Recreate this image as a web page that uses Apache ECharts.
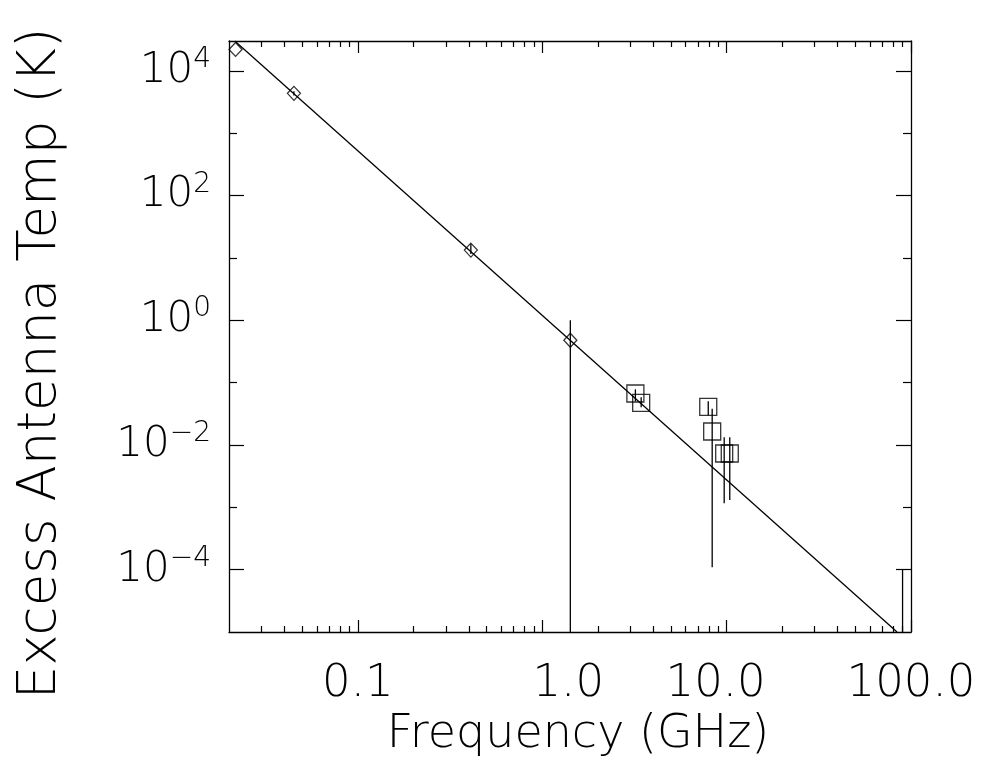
<!DOCTYPE html>
<html>
<head>
<meta charset="utf-8">
<script src="https://cdn.jsdelivr.net/npm/echarts@6/dist/echarts.min.js"></script>
<style>html,body{margin:0;padding:0;background:#fff;}#c{width:1002px;height:782px;}</style>
</head>
<body>
<div id="c"></div>
<script>
// ---- data ----
var diamondFreq = [0.0217, 0.045, 0.41, 1.42];
var diamondTemp = [22000, 4340, 13.3, 0.478];
var squareFreq = [3.2, 3.44, 7.95, 8.35, 9.7, 10.4, 90];
var squareTemp = [0.0667, 0.0472, 0.0407, 0.0164, 0.00728, 0.00728, 0.000003];
var errFreq = [0.045, 0.41, 1.42, 3.2, 3.44, 7.95, 8.35, 9.7, 10.4, 90];
var errLow  = [4000, 11.5, 0.000001, 0.05, 0.04, 0.03, 0.000109, 0.00116, 0.00131, 0.000001];
var errHigh = [4700, 16.6, 1.0, 0.078, 0.058, 0.05, 0.038, 0.0133, 0.0133, 0.0001];
var fitFreq = [0.0215, 84];
var fitTemp = [30000, 0.00001];
var xMajorTicks = [0.1, 1, 10, 100];
var xMinorTicks = [0.03,0.04,0.05,0.06,0.07,0.08,0.09,
                   0.2,0.3,0.4,0.5,0.6,0.7,0.8,0.9,
                   2,3,4,5,6,7,8,9,
                   20,30,40,50,60,70,80,90];
var xTickLabels = ['0.1', '1.0', '10.0', '100.0'];
var yMajorTicks = [1e-4, 1e-2, 1, 1e2, 1e4];
var yMinorTicks = [1e-3, 1e-1, 1e1, 1e3];
var yTickExponents = ['−4', '−2', '0', '2', '4'];

// label style keys (horizontal nudges of the tick labels as seen in the reference)
var xLabelStyleKeys = ['c', 'r', 'l', 'c'];

var FONT = 'DejaVu Sans';
var chart = echarts.init(document.getElementById('c'), null, {renderer: 'canvas'});

function zip(a, b) { return a.map(function (v, i) { return [v, b[i]]; }); }
function xLabel(v) {
  var i = xMajorTicks.findIndex(function (t) { return Math.abs(Math.log10(t) - Math.log10(v)) < 1e-6; });
  return i >= 0 ? '{' + xLabelStyleKeys[i] + '|' + xTickLabels[i] + '}' : '';
}
function yLabel(v) {
  var i = yMajorTicks.findIndex(function (t) { return Math.abs(Math.log10(t) - Math.log10(v)) < 1e-6; });
  return i >= 0 ? '{b|10}{s|' + yTickExponents[i] + '}' : '';
}

var xLabelFont = {fontFamily: FONT, fontWeight: 200, fontSize: 45, color: '#000'};
function xAx(pos, ticks, len, showLabel, showLine) {
  return {
    type: 'log', logBase: 10, min: 0.02, max: 100, position: pos,
    axisLine: {show: showLine, onZero: false, lineStyle: {color: '#000', width: 1.3}},
    axisTick: {show: true, inside: true, length: len, customValues: ticks, lineStyle: {color: '#000', width: 1.2}},
    axisLabel: {show: showLabel, customValues: xMajorTicks, formatter: xLabel, margin: 30,
                fontFamily: FONT, fontWeight: 200, fontSize: 45, color: '#000',
                rich: {
                  c: Object.assign({}, xLabelFont),
                  r: Object.assign({padding: [0, 0, 0, 52]}, xLabelFont),
                  l: Object.assign({padding: [0, 22, 0, 0]}, xLabelFont)
                }},
    splitLine: {show: false}, minorTick: {show: false},
    name: showLabel ? 'Frequency (GHz)' : '', nameLocation: 'middle', nameGap: 78,
    nameTextStyle: {fontFamily: FONT, fontWeight: 200, fontSize: 46, color: '#000', padding: [0, 0, 0, 16]}
  };
}
function yAx(pos, ticks, len, showLabel, showLine) {
  return {
    type: 'log', logBase: 10, min: 0.00001, max: 30000, position: pos,
    axisLine: {show: showLine, onZero: false, lineStyle: {color: '#000', width: 1.3}},
    axisTick: {show: true, inside: true, length: len, customValues: ticks, lineStyle: {color: '#000', width: 1.2}},
    axisLabel: {show: showLabel, customValues: yMajorTicks, formatter: yLabel, margin: 18,
                fontFamily: FONT, fontWeight: 200, color: '#000',
                rich: {
                  b: {fontFamily: FONT, fontWeight: 200, fontSize: 42, lineHeight: 50, color: '#000'},
                  s: {fontFamily: FONT, fontWeight: 200, fontSize: 28, lineHeight: 28, verticalAlign: 'top', color: '#000'}
                }},
    splitLine: {show: false}, minorTick: {show: false},
    name: showLabel ? 'Excess Antenna Temp (K)' : '', nameLocation: 'middle', nameGap: 161,
    nameTextStyle: {fontFamily: FONT, fontWeight: 200, fontSize: 53, color: '#000', padding: [0, 54, 0, 0]}
  };
}

var option = {
  backgroundColor: '#fff',
  animation: false,
  grid: {left: 229, right: 91, top: 41, bottom: 150, containLabel: false},
  xAxis: [
    xAx('bottom', xMajorTicks, 12, true, true),
    xAx('bottom', xMinorTicks, 6, false, false),
    xAx('top', xMajorTicks, 12, false, true),
    xAx('top', xMinorTicks, 6, false, false)
  ],
  yAxis: [
    yAx('left', yMajorTicks, 15, true, true),
    yAx('left', yMinorTicks, 8, false, false),
    yAx('right', yMajorTicks, 15, false, true),
    yAx('right', yMinorTicks, 8, false, false)
  ],
  series: [
    {
      type: 'line', data: zip(fitFreq, fitTemp), showSymbol: false, symbol: 'none',
      lineStyle: {color: '#000', width: 1.3}, clip: true, z: 2
    },
    {
      type: 'custom', clip: true, z: 3,
      data: errFreq.map(function (f, i) { return [f, errLow[i], errHigh[i]]; }),
      renderItem: function (params, api) {
        var p1 = api.coord([api.value(0), api.value(1)]);
        var p2 = api.coord([api.value(0), api.value(2)]);
        return {type: 'line', shape: {x1: p1[0], y1: p1[1], x2: p2[0], y2: p2[1]},
                style: {stroke: '#000', lineWidth: 1.3}};
      }
    },
    {
      type: 'scatter', data: zip(diamondFreq, diamondTemp), symbol: 'diamond', symbolSize: [13, 14],
      itemStyle: {color: 'rgba(0,0,0,0)', borderColor: '#000', borderWidth: 1.3}, clip: true, z: 4
    },
    {
      type: 'scatter', data: zip(squareFreq, squareTemp), symbol: 'rect', symbolSize: 17,
      itemStyle: {color: 'rgba(0,0,0,0)', borderColor: '#000', borderWidth: 1.3}, clip: true, z: 4
    }
  ]
};
chart.setOption(option);
</script>
</body>
</html>
